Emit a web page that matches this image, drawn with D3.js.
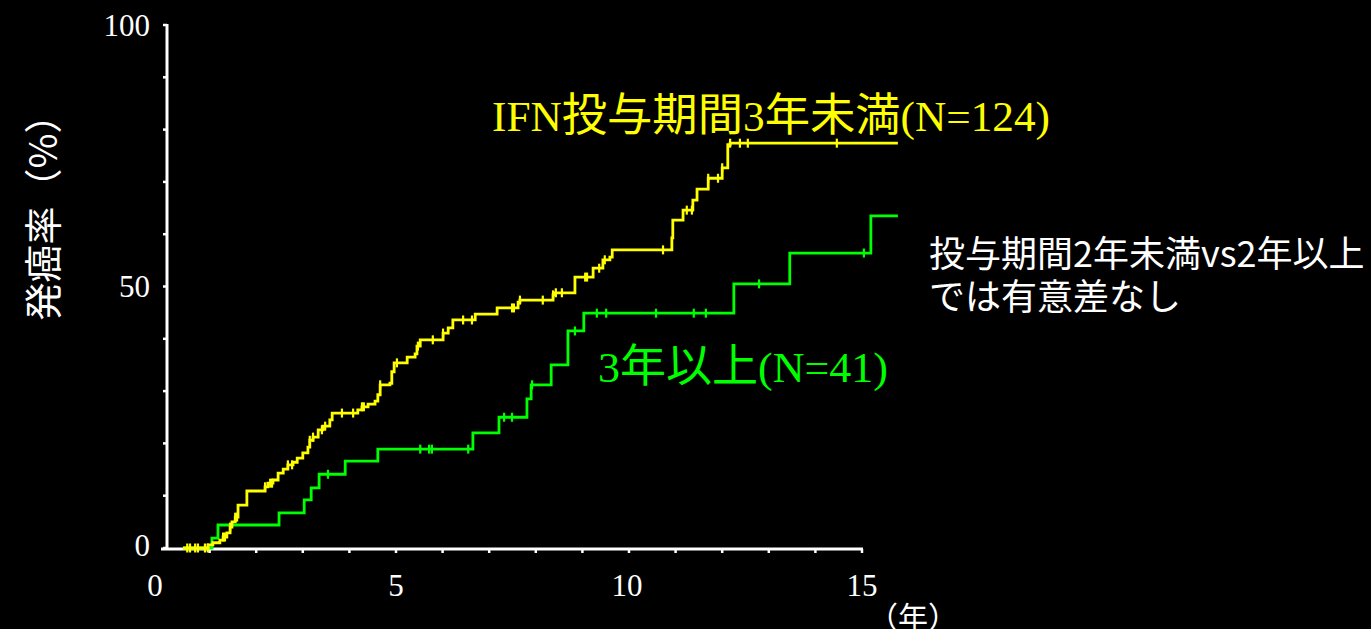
<!DOCTYPE html>
<html>
<head>
<meta charset="utf-8">
<script src="https://cdn.jsdelivr.net/npm/d3@7"></script>
<style>
  html, body { margin: 0; padding: 0; background: #000; }
  svg { display: block; }
</style>
</head>
<body>
<svg id="chart" width="1371" height="629"></svg>
<script>
// Cumulative cancer incidence (%) by IFN treatment duration.
// Each event: [years, cumulative % after the step].
const shortStart = 0.43;
const shortEnd = 15.77;
const shortEvents = [
  [0.97, 0.6], [1.07, 1.0], [1.22, 1.5], [1.29, 2.1], [1.37, 2.9], [1.44, 4.0],
  [1.48, 5.0], [1.55, 5.9], [1.61, 8.2], [1.80, 10.9], [2.19, 11.7], [2.25, 12.4],
  [2.36, 13.0], [2.47, 14.3], [2.58, 15.1], [2.68, 15.9], [2.79, 16.4], [2.88, 17.2],
  [3.00, 18.2], [3.11, 19.3], [3.15, 20.6], [3.22, 21.2], [3.33, 22.6], [3.43, 23.3],
  [3.58, 24.5], [3.63, 25.8], [4.18, 26.4], [4.27, 27.0], [4.40, 27.5], [4.55, 28.1],
  [4.61, 29.3], [4.66, 31.2], [4.87, 31.5], [4.91, 33.7], [4.96, 35.4], [5.24, 36.5],
  [5.41, 37.1], [5.45, 38.6], [5.52, 39.8], [6.01, 41.1], [6.12, 42.1], [6.22, 43.6],
  [6.70, 44.7], [7.17, 45.9], [7.62, 47.0], [7.66, 47.4], [8.37, 48.4], [8.41, 48.8],
  [8.84, 51.8], [9.23, 53.5], [9.44, 55.1], [9.59, 55.6], [9.64, 57.0], [10.92, 59.3],
  [10.94, 62.7], [11.16, 64.6], [11.37, 66.5], [11.46, 68.6], [11.70, 70.7], [12.00, 72.7],
  [12.12, 77.1], [12.17, 77.4]
];
const shortCensored = [
  0.52, 0.58, 0.69, 0.75, 0.90, 0.96, 1.29, 1.33, 1.44, 1.55, 1.59, 2.19, 2.30, 2.34,
  2.68, 2.77, 3.15, 3.22, 3.41, 3.48, 3.84, 4.08, 4.27, 4.31, 4.66, 5.02, 5.47, 5.79,
  6.01, 6.44, 6.63, 7.49, 7.53, 7.66, 8.15, 8.37, 8.43, 8.56, 9.06, 9.10, 9.36, 9.48,
  10.73, 11.24, 11.35, 11.70, 11.91, 12.00, 12.17, 12.38, 12.55, 14.46
];

const longStart = 0.43;
const longEnd = 15.77;
const longEvents = [
  [1.05, 1.9], [1.18, 4.4], [2.49, 6.7], [3.03, 9.2], [3.18, 11.5], [3.35, 14.1],
  [3.91, 16.6], [4.61, 18.9], [6.65, 22.0], [7.21, 25.0], [7.81, 28.5], [7.90, 31.2],
  [8.33, 35.0], [8.69, 41.5], [9.03, 44.9], [12.25, 50.5], [13.45, 56.4], [15.19, 63.5]
];
const longCensored = [
  3.54, 5.52, 5.71, 5.77, 6.55, 7.32, 7.49, 7.92, 8.84, 9.31, 9.51, 10.58, 11.39,
  11.65, 12.79, 15.04
];

const yTicks = [0, 50, 100];
const yMinorTicks = [0, 10, 20, 30, 40, 50, 60, 70, 80, 90, 100];
const xTicks = [0, 5, 10, 15];
const xMinorTicks = d3.range(1, 16);

// Series labels, split into Latin and CJK runs
const shortLabel = [["IFN", "lat"], ["投与期間", "cjk"], ["3", "lat"], ["年未満", "cjk"], ["(N=124)", "lat"]];
const longLabel = [["3", "lat"], ["年以上", "cjk"], ["(N=41)", "lat"]];
const noteLines = ["投与期間2年未満vs2年以上", "では有意差なし"];

const svg = d3.select("#chart");
const x = d3.scaleLinear().domain([0, 15]).range([163, 862]);
const y = d3.scaleLinear().domain([0, 100]).range([548, 25]);

const serif = "'Liberation Serif', 'DejaVu Serif', serif";
const gothic = "'Noto Sans CJK JP', sans-serif";

// Axes
const axisX = 167;
const axisY = 549;
svg.append("line").attr("x1", axisX).attr("x2", axisX).attr("y1", y(100) - 1).attr("y2", axisY)
  .attr("stroke", "#fff").attr("stroke-width", 3);
svg.append("line").attr("x1", 161).attr("x2", x(15) + 1).attr("y1", axisY).attr("y2", axisY)
  .attr("stroke", "#fff").attr("stroke-width", 3);

svg.selectAll(".ymin").data(yMinorTicks).join("line")
  .attr("x1", axisX - 4).attr("x2", axisX).attr("y1", d => y(d)).attr("y2", d => y(d))
  .attr("stroke", "#fff").attr("stroke-width", 2.5);
svg.selectAll(".xmin").data(xMinorTicks).join("line")
  .attr("x1", d => x(d)).attr("x2", d => x(d)).attr("y1", axisY).attr("y2", axisY + 4)
  .attr("stroke", "#fff").attr("stroke-width", 2.5);

svg.selectAll(".ylab").data(yTicks).join("text")
  .attr("x", 150).attr("y", d => y(d) + (d === 0 ? -3 : 0))
  .attr("text-anchor", "end").attr("dominant-baseline", "central")
  .attr("font-family", serif).attr("font-size", 31).attr("fill", "#fff")
  .text(d => d);
svg.selectAll(".xlab").data(xTicks).join("text")
  .attr("x", d => x(d) + (d === 0 ? -8 : (d === 10 ? -2 : 0))).attr("y", 585)
  .attr("text-anchor", "middle").attr("dominant-baseline", "central")
  .attr("font-family", serif).attr("font-size", 31).attr("fill", "#fff")
  .text(d => d);
svg.append("text").attr("x", 913).attr("y", 615)
  .attr("text-anchor", "middle").attr("dominant-baseline", "central")
  .attr("font-family", gothic).attr("font-size", 30).attr("fill", "#fff")
  .text("（年）");

svg.append("text")
  .attr("transform", "translate(40,208) rotate(-90)")
  .attr("text-anchor", "middle").attr("dominant-baseline", "central")
  .attr("font-family", gothic).attr("font-size", 38).attr("fill", "#fff")
  .text("発癌率（%）");

// Step curves
function stepPoints(start, events, end) {
  const pts = [[start, 0]].concat(events);
  pts.push([end, events[events.length - 1][1]]);
  return pts;
}
function valueAt(events, t) {
  let v = 0;
  for (const e of events) { if (e[0] <= t + 1e-9) v = e[1]; }
  return v;
}
const line = d3.line().x(d => x(d[0])).y(d => y(d[1])).curve(d3.curveStepAfter);

function drawCurve(start, events, end, censored, color) {
  const g = svg.append("g");
  g.append("path").datum(stepPoints(start, events, end))
    .attr("d", line).attr("fill", "none").attr("stroke", color).attr("stroke-width", 2.8);
  g.selectAll("line").data(censored).join("line")
    .attr("x1", d => x(d)).attr("x2", d => x(d))
    .attr("y1", d => y(valueAt(events, d)) - 4.5).attr("y2", d => y(valueAt(events, d)) + 4.5)
    .attr("stroke", color).attr("stroke-width", 2.2);
}
drawCurve(longStart, longEvents, longEnd, longCensored, "#00ff00");
drawCurve(shortStart, shortEvents, shortEnd, shortCensored, "#ffff00");

// Series labels
function seriesLabel(runs, x0, baseline, width, color) {
  const t = svg.append("text").attr("x", x0).attr("y", baseline)
    .attr("textLength", width).attr("lengthAdjust", "spacingAndGlyphs")
    .attr("fill", color);
  t.selectAll("tspan").data(runs).join("tspan")
    .attr("font-family", d => d[1] === "cjk" ? gothic : serif)
    .attr("font-size", d => d[1] === "cjk" ? 45 : 43)
    .text(d => d[0]);
}
seriesLabel(shortLabel, 492, 131, 558, "#ffff00");
seriesLabel(longLabel, 598, 382, 290, "#00ff00");

// Note on the right, two lines in one block
const note = svg.append("text").attr("x", 929).attr("y", 267)
  .attr("font-family", gothic).attr("font-size", 36).attr("fill", "#fff");
note.selectAll("tspan").data(noteLines).join("tspan")
  .attr("x", 929).attr("dy", (d, i) => i === 0 ? 0 : 43)
  .text(d => d);
</script>
</body>
</html>
